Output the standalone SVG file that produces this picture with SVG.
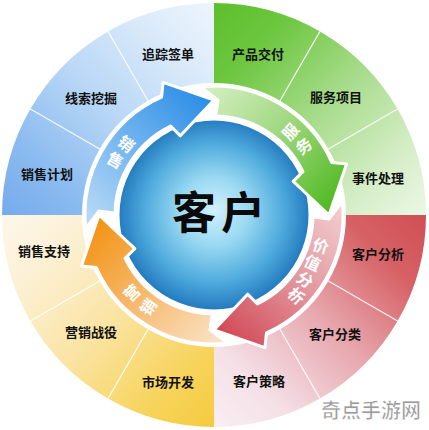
<svg xmlns="http://www.w3.org/2000/svg" width="429" height="430" viewBox="0 0 429 430">
<defs>
<linearGradient id="gB" gradientUnits="userSpaceOnUse" x1="2" y1="215" x2="214" y2="3"><stop offset="0" stop-color="#76aaec"/><stop offset="0.2" stop-color="#89baf0"/><stop offset="0.5" stop-color="#b9d7f6"/><stop offset="0.8" stop-color="#dcebfa"/><stop offset="1" stop-color="#eef5fd"/></linearGradient>
<linearGradient id="gG" gradientUnits="userSpaceOnUse" x1="214" y1="3" x2="426" y2="215"><stop offset="0" stop-color="#5cbf2c"/><stop offset="0.2" stop-color="#6cc63e"/><stop offset="0.5" stop-color="#a6db8a"/><stop offset="0.8" stop-color="#d6eec8"/><stop offset="1" stop-color="#ecf7e6"/></linearGradient>
<linearGradient id="gR" gradientUnits="userSpaceOnUse" x1="426" y1="215" x2="214" y2="427"><stop offset="0" stop-color="#d04f55"/><stop offset="0.2" stop-color="#d66265"/><stop offset="0.5" stop-color="#e8a9b0"/><stop offset="0.8" stop-color="#f4e0e6"/><stop offset="1" stop-color="#f9eff3"/></linearGradient>
<linearGradient id="gY" gradientUnits="userSpaceOnUse" x1="214" y1="427" x2="2" y2="215"><stop offset="0" stop-color="#f5ca3e"/><stop offset="0.2" stop-color="#f7d45c"/><stop offset="0.5" stop-color="#fae4a4"/><stop offset="0.8" stop-color="#fcf1d6"/><stop offset="1" stop-color="#fdf7ea"/></linearGradient>
<linearGradient id="aB" gradientUnits="userSpaceOnUse" x1="92" y1="225" x2="210" y2="98"><stop offset="0" stop-color="#b9daf6"/><stop offset="0.45" stop-color="#78b8f0"/><stop offset="1" stop-color="#2b8de6"/></linearGradient>
<linearGradient id="aG" gradientUnits="userSpaceOnUse" x1="205" y1="92" x2="332" y2="210"><stop offset="0" stop-color="#d4eec2"/><stop offset="0.45" stop-color="#a2d982"/><stop offset="1" stop-color="#4fb820"/></linearGradient>
<linearGradient id="aR" gradientUnits="userSpaceOnUse" x1="337" y1="205" x2="220" y2="332"><stop offset="0" stop-color="#f2ccd0"/><stop offset="0.45" stop-color="#e49aa2"/><stop offset="1" stop-color="#d14a56"/></linearGradient>
<linearGradient id="aO" gradientUnits="userSpaceOnUse" x1="222" y1="338" x2="97" y2="220"><stop offset="0" stop-color="#fae2c6"/><stop offset="0.45" stop-color="#f7be78"/><stop offset="1" stop-color="#f39314"/></linearGradient>
<radialGradient id="cg" gradientUnits="userSpaceOnUse" cx="214" cy="214" r="97" fx="214" fy="210"><stop offset="0" stop-color="#d2f1fb"/><stop offset="0.35" stop-color="#9ad9f2"/><stop offset="0.72" stop-color="#4eaadd"/><stop offset="1" stop-color="#2178bd"/></radialGradient>
<style>
.lbl{font-family:"Noto Sans CJK SC","Noto Sans",sans-serif;font-size:13px;font-weight:bold;fill:#111;text-anchor:middle}
.arw{stroke:#fff;stroke-width:3;stroke-linejoin:round}
.at{font-family:"Noto Sans CJK SC","Noto Sans",sans-serif;font-size:16px;font-weight:bold;fill:#fff;text-anchor:middle;dominant-baseline:central}
.div{stroke:#fff;stroke-width:1.2;stroke-opacity:0.85}
.ct{font-family:"Noto Sans CJK SC",sans-serif;font-size:44px;font-weight:bold;fill:#0a0a0a;text-anchor:middle}
</style>
</defs>
<rect width="429" height="430" fill="#fff"/>
<g id="ring">
<g id="seg-chanpinjiaofu"><path d="M214,3 A212,212 0 0 1 320,31.4 L280,100.68 A132,132 0 0 0 214,83 Z" fill="url(#gG)"/><text class="lbl" x="258" y="59">产品交付</text></g>
<g id="seg-fuwuxiangmu"><path d="M320,31.4 A212,212 0 0 1 397.6,109 L328.32,149 A132,132 0 0 0 280,100.68 Z" fill="url(#gG)"/><text class="lbl" x="336" y="102">服务项目</text></g>
<g id="seg-shijianchuli"><path d="M397.6,109 A212,212 0 0 1 426,215 L346,215 A132,132 0 0 0 328.32,149 Z" fill="url(#gG)"/><text class="lbl" x="378" y="183">事件处理</text></g>
<g id="seg-kehufenxi"><path d="M426,215 A212,212 0 0 1 397.6,321 L328.32,281 A132,132 0 0 0 346,215 Z" fill="url(#gR)"/><text class="lbl" x="378" y="259">客户分析</text></g>
<g id="seg-kehufenlei"><path d="M397.6,321 A212,212 0 0 1 320,398.6 L280,329.32 A132,132 0 0 0 328.32,281 Z" fill="url(#gR)"/><text class="lbl" x="335" y="339">客户分类</text></g>
<g id="seg-kehucelue"><path d="M320,398.6 A212,212 0 0 1 214,427 L214,347 A132,132 0 0 0 280,329.32 Z" fill="url(#gR)"/><text class="lbl" x="259" y="386">客户策略</text></g>
<g id="seg-shichangkaifa"><path d="M214,427 A212,212 0 0 1 108,398.6 L148,329.32 A132,132 0 0 0 214,347 Z" fill="url(#gY)"/><text class="lbl" x="168" y="387">市场开发</text></g>
<g id="seg-yingxiaozhanyi"><path d="M108,398.6 A212,212 0 0 1 30.4,321 L99.68,281 A132,132 0 0 0 148,329.32 Z" fill="url(#gY)"/><text class="lbl" x="91" y="337">营销战役</text></g>
<g id="seg-xiaoshouzhichi"><path d="M30.4,321 A212,212 0 0 1 2,215 L82,215 A132,132 0 0 0 99.68,281 Z" fill="url(#gY)"/><text class="lbl" x="44" y="256">销售支持</text></g>
<g id="seg-xiaoshoujihua"><path d="M2,215 A212,212 0 0 1 30.4,109 L99.68,149 A132,132 0 0 0 82,215 Z" fill="url(#gB)"/><text class="lbl" x="47" y="179">销售计划</text></g>
<g id="seg-xiansuowajue"><path d="M30.4,109 A212,212 0 0 1 108,31.4 L148,100.68 A132,132 0 0 0 99.68,149 Z" fill="url(#gB)"/><text class="lbl" x="91" y="103">线索挖掘</text></g>
<g id="seg-zhuizongqiandan"><path d="M108,31.4 A212,212 0 0 1 214,3 L214,83 A132,132 0 0 0 148,100.68 Z" fill="url(#gB)"/><text class="lbl" x="168" y="59">追踪签单</text></g>
<g id="dividers">
<line class="div" x1="328.32" y1="281" x2="397.6" y2="321"/>
<line class="div" x1="280" y1="329.32" x2="320" y2="398.6"/>
<line class="div" x1="148" y1="329.32" x2="108" y2="398.6"/>
<line class="div" x1="99.68" y1="281" x2="30.4" y2="321"/>
<line class="div" x1="99.68" y1="149" x2="30.4" y2="109"/>
<line class="div" x1="148" y1="100.68" x2="108" y2="31.4"/>
<line class="div" x1="280" y1="100.68" x2="320" y2="31.4"/>
<line class="div" x1="328.32" y1="149" x2="397.6" y2="109"/>
</g>
</g>
<g id="customer">
<circle cx="214" cy="215" r="96" fill="url(#cg)" stroke="#fff" stroke-width="3"/>
<text class="ct" x="194" y="229">客</text>
<text class="ct" x="243" y="229">户</text>
</g>
<g id="connectors">
<g id="arrow-sales">
<path class="arw" fill="url(#aB)" d="M85.71,228.48 A129,129 0 0 1 161.53,97.15 L163.11,82.43 L214,100 L180.4,135.84 L170.6,126.02 A99,99 0 0 0 115.01,213.27 L99.07,210.99 Z"/>
<text class="at" transform="translate(126.8,143.1) rotate(39.5)">销</text>
<text class="at" transform="translate(115.6,159.4) rotate(29.5)">售</text>
</g>
<g id="arrow-service">
<path class="arw" fill="url(#aG)" d="M200.52,86.71 A129,129 0 0 1 331.85,162.53 L346.57,164.11 L329,215 L293.16,181.4 L302.98,171.6 A99,99 0 0 0 215.73,116.01 L218.01,100.07 Z"/>
<text class="at" transform="translate(289.6,131) rotate(-48)">服</text>
<text class="at" transform="translate(303,145.4) rotate(-38)">务</text>
</g>
<g id="arrow-value">
<path class="arw" fill="url(#aR)" d="M342.29,201.52 A129,129 0 0 1 266.47,332.85 L264.89,347.57 L214,330 L247.6,294.16 L257.4,303.98 A99,99 0 0 0 312.99,216.73 L328.93,219.01 Z"/>
<text class="at" font-size="17" transform="translate(321,245) rotate(16)">价</text>
<text class="at" font-size="17" transform="translate(313,262) rotate(25)">值</text>
<text class="at" font-size="17" transform="translate(305.5,279) rotate(34)">分</text>
<text class="at" font-size="17" transform="translate(297,295) rotate(43)">析</text>
</g>
<g id="arrow-marketing">
<path class="arw" fill="url(#aO)" d="M227.48,343.29 A129,129 0 0 1 96.15,267.47 L81.43,265.89 L99,215 L134.84,248.6 L125.02,258.4 A99,99 0 0 0 212.27,313.99 L209.99,329.93 Z"/>
<text class="at" transform="translate(131.4,292.1) rotate(-43)">营</text>
<text class="at" transform="translate(147.6,306.4) rotate(-54)">销</text>
</g>
</g>
<text x="371" y="418" font-family="Noto Sans CJK SC, sans-serif" font-size="20" font-weight="bold" fill="#8a8a8a" fill-opacity="0.85" stroke="#fff" stroke-width="0.6" text-anchor="middle">奇点手游网</text>
</svg>
